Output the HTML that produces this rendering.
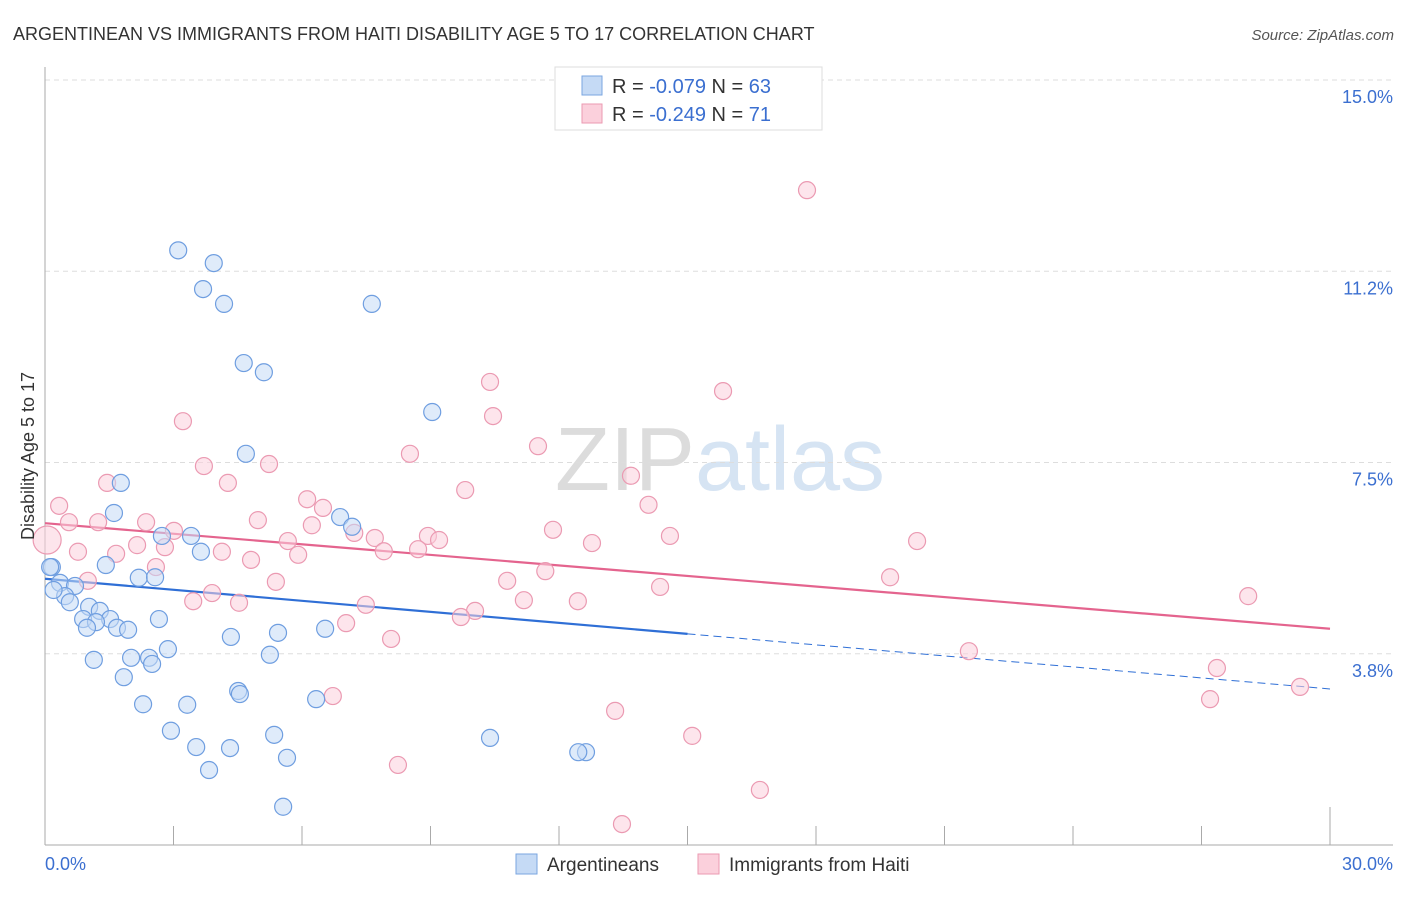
<!DOCTYPE html>
<html><head><meta charset="utf-8"><style>
body{margin:0;background:#fff;font-family:"Liberation Sans",sans-serif;}
svg text{font-family:"Liberation Sans",sans-serif;}
</style></head><body>
<svg width="1406" height="892">
<text x="13" y="40" font-size="18" fill="#333">ARGENTINEAN VS IMMIGRANTS FROM HAITI DISABILITY AGE 5 TO 17 CORRELATION CHART</text>
<text x="1394" y="40" font-size="15" fill="#555" font-style="italic" text-anchor="end">Source: ZipAtlas.com</text>
<text x="720" y="490" font-size="90" fill="#e4e4e4" text-anchor="middle" font-family="Liberation Serif"><tspan fill="#dcdcdc">ZIP</tspan><tspan fill="#d6e4f3" font-family="Liberation Sans">atlas</tspan></text>
<g id="grid"></g><g id="axes"></g><g id="trends"></g><g id="pts"></g>
<text transform="translate(34,456) rotate(-90)" font-size="18" fill="#333" text-anchor="middle">Disability Age 5 to 17</text>
<g>
<rect x="555" y="67" width="267" height="63" fill="#fff" stroke="#ddd"/>
<rect x="582" y="76" width="20" height="19" fill="#c5daf5" stroke="#7aa6e0"/>
<rect x="582" y="104" width="20" height="19" fill="#fbd0dc" stroke="#eb9ab2"/>
<text x="612" y="93" font-size="20" fill="#333">R = <tspan fill="#3b6fd0">-0.079</tspan>   N = <tspan fill="#3b6fd0">63</tspan></text>
<text x="612" y="121" font-size="20" fill="#333">R = <tspan fill="#3b6fd0">-0.249</tspan>   N = <tspan fill="#3b6fd0"> 71</tspan></text>
</g>
<g>
<rect x="516" y="854" width="21" height="20" fill="#c5daf5" stroke="#7aa6e0"/>
<text x="547" y="871" font-size="19" fill="#333">Argentineans</text>
<rect x="698" y="854" width="21" height="20" fill="#fbd0dc" stroke="#eb9ab2"/>
<text x="729" y="871" font-size="19" fill="#333">Immigrants from Haiti</text>
</g>
</svg>
<script>
const yTicks=[15.0,11.25,7.5,3.75];
const yTickLabels=["15.0%","11.2%","7.5%","3.8%"];
const xTickLabels=["0.0%","30.0%"];
const blueX=[3.11,3.94,3.69,4.18,7.63,4.64,5.11,9.04,4.69,1.77,1.61,6.89,7.17,3.41,2.73,3.64,1.42,2.19,2.57,0.16,0.35,0.70,0.47,0.58,1.03,1.28,0.89,1.52,1.19,0.98,1.68,1.94,2.66,5.44,6.54,4.34,2.87,1.14,2.01,2.43,2.50,5.25,1.84,4.51,4.55,6.33,2.29,3.32,2.94,5.35,3.53,4.32,10.39,5.65,3.83,12.63,12.45,5.56,0.12,0.2];
const blueY=[11.66,11.41,10.90,10.61,10.61,9.45,9.27,8.49,7.67,7.10,6.51,6.43,6.24,6.06,6.06,5.75,5.49,5.24,5.25,5.45,5.14,5.08,4.88,4.76,4.67,4.59,4.43,4.43,4.37,4.26,4.26,4.22,4.43,4.16,4.24,4.08,3.84,3.63,3.67,3.67,3.55,3.73,3.29,3.02,2.96,2.86,2.76,2.75,2.24,2.16,1.92,1.90,2.10,1.71,1.47,1.82,1.82,0.75,5.45,5.0];
const pinkX=[17.79,10.39,15.83,3.22,10.46,11.51,8.52,3.71,5.23,13.68,1.45,4.27,9.81,6.12,0.33,14.09,6.49,4.97,0.56,1.24,2.36,3.01,11.86,6.23,7.22,8.94,14.59,9.20,12.77,5.67,7.70,20.36,2.15,2.80,0.77,1.66,4.13,4.81,7.91,8.71,5.91,2.59,11.68,19.73,1.00,10.79,5.39,14.36,3.90,3.46,4.53,11.18,12.44,7.49,28.09,10.04,9.71,7.03,8.08,21.57,27.36,6.72,29.30,27.2,13.31,15.11,8.24,16.69,13.47,0.05];
const pinkY=[12.84,9.08,8.90,8.31,8.41,7.82,7.67,7.43,7.47,7.24,7.10,7.10,6.96,6.78,6.65,6.67,6.61,6.37,6.33,6.33,6.33,6.16,6.18,6.27,6.12,6.06,6.06,5.98,5.92,5.96,6.02,5.96,5.88,5.84,5.75,5.71,5.75,5.59,5.76,5.80,5.69,5.45,5.37,5.25,5.18,5.18,5.16,5.06,4.94,4.78,4.75,4.80,4.78,4.71,4.88,4.59,4.47,4.35,4.04,3.80,3.47,2.92,3.10,2.86,2.63,2.14,1.57,1.08,0.41,5.98];
const blueTrend=[5.22,3.06], pinkTrend=[6.31,4.24];
const NS="http://www.w3.org/2000/svg";
const X=v=>45+v*(1285/30), Y=v=>845-v*51.0;
function mk(p,t,a){const e=document.createElementNS(NS,t);for(const k in a)e.setAttribute(k,a[k]);document.getElementById(p).appendChild(e);return e;}
yTicks.forEach((t,i)=>{
 const g=mk('grid','line',{x1:45,x2:1393,y1:Y(t),y2:Y(t),stroke:'#ddd','stroke-dasharray':'5,4'});
 
 
 const l=mk('grid','text',{x:1393,y:Y(t)+23,'font-size':18,fill:'#3b6fd0','text-anchor':'end'});
 l.textContent=yTickLabels[i];
 
 
});
const ax=mk('axes','line',{x1:45,x2:1393,y1:845,y2:845,stroke:'#aaa'});


const ay=mk('axes','line',{x1:45,x2:45,y1:67,y2:845,stroke:'#aaa'});


for(let i=1;i<=10;i++){
 const tk=mk('axes','line',{x1:X(i*3),x2:X(i*3),y1:i==10?807:826,y2:845,stroke:'#aaa'});
 
 
}
[[0,'start',45],[30,'end',1393]].forEach((d,i)=>{
 const t=mk('axes','text',{x:d[2],y:870,'font-size':18,fill:'#3b6fd0','text-anchor':d[1]});
 t.textContent=xTickLabels[i];
 
 
});
function pts(xs,ys,fill,stroke,name){xs.forEach((x,i)=>{
 const big=(i===xs.length-1&&x<0.2);
 const c=mk('pts','circle',{cx:X(x),cy:Y(ys[i]),r:big?14:8.5,fill:fill,'fill-opacity':0.55,stroke:stroke,'stroke-width':1.2});
 
 
});}
pts(pinkX,pinkY,'#fbd0dc','#eb9ab2','haiti-point');
pts(blueX,blueY,'#c5daf5','#6f9ee0','argentinean-point');
const bt=v=>blueTrend[0]+(blueTrend[1]-blueTrend[0])*v/30;
const pt=v=>pinkTrend[0]+(pinkTrend[1]-pinkTrend[0])*v/30;
const b1=mk('trends','line',{x1:X(0),y1:Y(bt(0)),x2:X(15),y2:Y(bt(15)),stroke:'#2f6fd6','stroke-width':2.2});


const b2=mk('trends','line',{x1:X(15),y1:Y(bt(15)),x2:X(30),y2:Y(bt(30)),stroke:'#2f6fd6','stroke-width':1,'stroke-dasharray':'8,5'});


const p1=mk('trends','line',{x1:X(0),y1:Y(pt(0)),x2:X(30),y2:Y(pt(30)),stroke:'#e4648e','stroke-width':2.2});


</script>
</body></html>
